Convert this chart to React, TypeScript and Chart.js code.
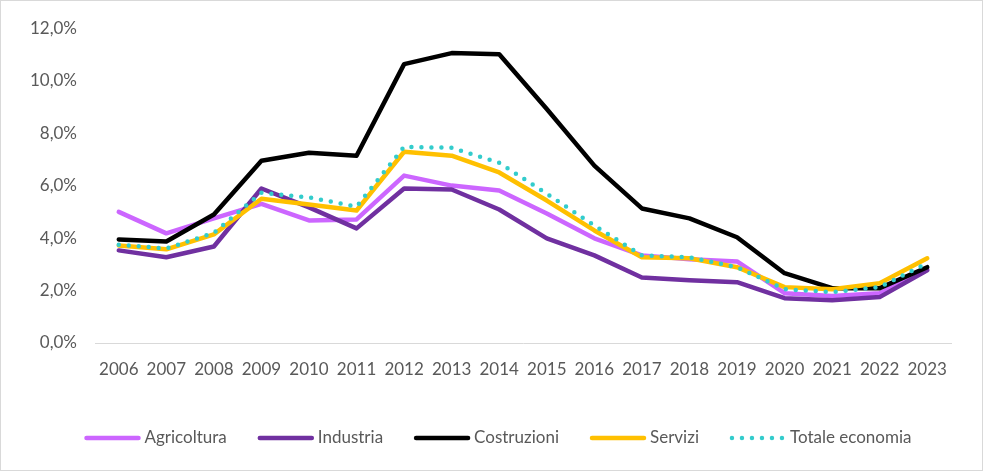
import React, { useEffect, useRef } from "react";
import { Chart, registerables } from "chart.js";

Chart.register(...registerables);

const years = ["2006","2007","2008","2009","2010","2011","2012","2013","2014","2015","2016","2017","2018","2019","2020","2021","2022","2023"];
const agricoltura = [5.0,4.18,4.75,5.3,4.67,4.71,6.38,6.0,5.81,4.94,3.99,3.34,3.19,3.11,1.9,1.79,1.9,2.8];
const industria = [3.53,3.27,3.68,5.89,5.17,4.37,5.89,5.85,5.09,3.99,3.34,2.5,2.39,2.32,1.71,1.63,1.75,2.77];
const costruzioni = [3.95,3.87,4.9,6.95,7.25,7.14,10.63,11.05,11.01,8.92,6.76,5.13,4.75,4.03,2.66,2.09,2.09,2.89];
const servizi = [3.72,3.57,4.14,5.5,5.28,5.05,7.29,7.14,6.5,5.43,4.29,3.27,3.23,2.89,2.13,2.05,2.28,3.23];
const totale = [3.75,3.6,4.2,5.73,5.55,5.2,7.48,7.44,6.87,5.69,4.48,3.34,3.27,2.89,2.05,1.94,2.13,3.04];

const seriesNames = ["Agricoltura", "Industria", "Costruzioni", "Servizi", "Totale economia"];
const seriesColors = ["#CC66FF", "#7030A0", "#000000", "#FFC000", "#33CCCC"];

const FONT_FAMILY = "Lato, 'Open Sans', sans-serif";
const FONT_SIZE = 17;
const TEXT_COLOR = "#595959";

const borderPlugin = {
  id: "frameBorder",
  beforeDraw(chart: any) {
    const ctx = chart.ctx;
    ctx.save();
    ctx.fillStyle = "#ffffff";
    ctx.fillRect(0, 0, chart.width, chart.height);
    ctx.strokeStyle = "#d9d9d9";
    ctx.lineWidth = 1;
    ctx.strokeRect(0.5, 0.5, chart.width - 1, chart.height - 1);
    ctx.restore();
  },
};

const legendPlugin = {
  id: "customLegend",
  afterDraw(chart: any) {
    const ctx = chart.ctx;
    ctx.save();
    ctx.font = `${FONT_SIZE}px ${FONT_FAMILY}`;
    const lineLen = 56;
    const gap = 4;
    const itemGap = 31;
    const widths = seriesNames.map((n) => ctx.measureText(n).width);
    const total = widths.reduce((a, w) => a + lineLen + gap + w, 0) + itemGap * (seriesNames.length - 1);
    let x = 498 - total / 2;
    const y = 438;
    chart.data.datasets.forEach((ds: any, i: number) => {
      ctx.beginPath();
      ctx.strokeStyle = ds.borderColor;
      ctx.lineWidth = ds.borderWidth;
      ctx.lineCap = "round";
      ctx.setLineDash(ds.borderDash || []);
      ctx.moveTo(x + 2, y);
      ctx.lineTo(x + lineLen - 2, y);
      ctx.stroke();
      ctx.setLineDash([]);
      ctx.fillStyle = TEXT_COLOR;
      ctx.textBaseline = "middle";
      ctx.textAlign = "left";
      ctx.fillText(seriesNames[i], x + lineLen + gap, y);
      x += lineLen + gap + widths[i] + itemGap;
    });
    ctx.restore();
  },
};

export default function App() {
  const canvasRef = useRef<HTMLCanvasElement | null>(null);

  useEffect(() => {
    if (!canvasRef.current) return;
    const values = [agricoltura, industria, costruzioni, servizi, totale];
    const datasets = values.map((data, i) => ({
      label: seriesNames[i],
      data,
      borderColor: seriesColors[i],
      backgroundColor: seriesColors[i],
      borderWidth: 4.5,
      borderCapStyle: "round" as const,
      borderJoinStyle: "round" as const,
      borderDash: i === 4 ? [0, 10] : [],
      pointRadius: 0,
      pointHoverRadius: 0,
      tension: 0,
      fill: false,
      order: 5 - i,
    }));
    const chart = new Chart(canvasRef.current, {
      type: "line",
      data: { labels: years, datasets },
      options: {
        animation: false,
        responsive: false,
        maintainAspectRatio: false,
        devicePixelRatio: 1,
        layout: { padding: { top: 27, right: 32, bottom: 0, left: 0 } },
        plugins: { legend: { display: false }, tooltip: { enabled: false } },
        scales: {
          x: {
            offset: true,
            grid: { display: false, drawTicks: false },
            border: { display: true, color: "#d9d9d9", width: 1 },
            ticks: {
              color: TEXT_COLOR,
              font: { family: FONT_FAMILY, size: FONT_SIZE },
              padding: 16,
              maxRotation: 0,
              autoSkip: false,
            },
            afterFit: (s: any) => {
              s.height = 128;
            },
          },
          y: {
            min: 0,
            max: 12,
            grid: { display: false, drawTicks: false },
            border: { display: false },
            ticks: {
              stepSize: 2,
              padding: 18,
              color: TEXT_COLOR,
              font: { family: FONT_FAMILY, size: FONT_SIZE },
              callback: (v: any) => Number(v).toFixed(1).replace(".", ",") + "%",
            },
            afterFit: (s: any) => {
              s.width = 95;
            },
          },
        },
      },
      plugins: [borderPlugin, legendPlugin],
    });
    return () => chart.destroy();
  }, []);

  return (
    <div style={{ position: "absolute", left: 0, top: 0, width: 983, height: 471 }}>
      <canvas ref={canvasRef} width={983} height={471} style={{ width: 983, height: 471, display: "block" }} />
    </div>
  );
}
